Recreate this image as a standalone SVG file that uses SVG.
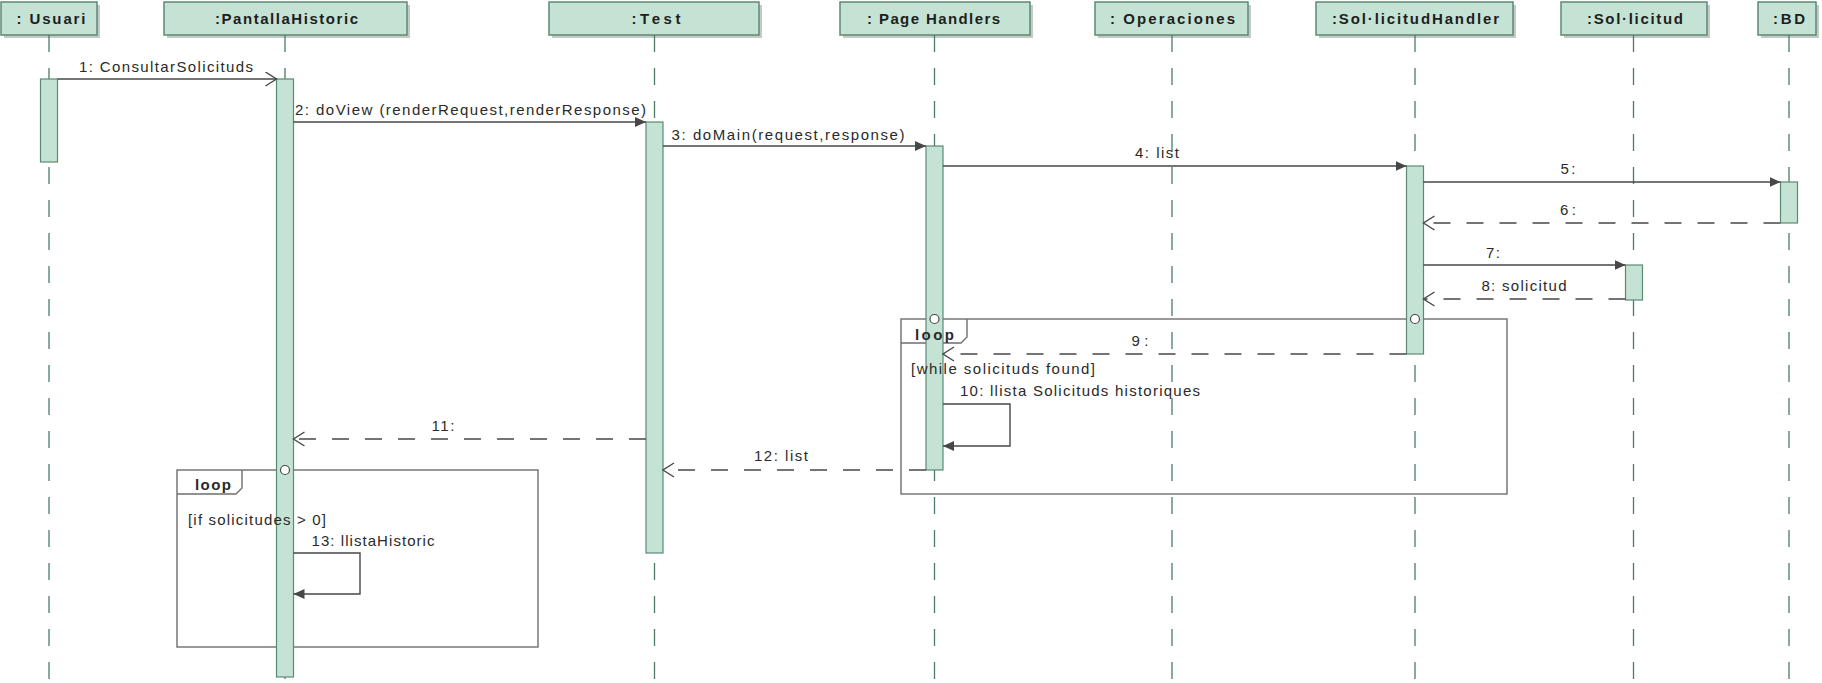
<svg xmlns="http://www.w3.org/2000/svg" width="1822" height="683" viewBox="0 0 1822 683">
<defs>
<style>
.hdr{fill:#c4e3d4;stroke:#5b8a73;stroke-width:1.5}
.shadow{fill:#9a9a9a;opacity:0.55}
.life{stroke:#4d7c64;stroke-width:1.3;stroke-dasharray:17 16;fill:none}
.act{fill:#c4e3d4;stroke:#5b8a73;stroke-width:1.2}
.msg{stroke:#474747;stroke-width:1.4;fill:none}
.ret{stroke:#474747;stroke-width:1.4;fill:none;stroke-dasharray:17 16}
.frame{stroke:#6e6e6e;stroke-width:1.4;fill:none}
.circ{fill:#ffffff;stroke:#474747;stroke-width:1.2}
.ht{font-family:"Liberation Sans",Arial,sans-serif;font-size:15px;font-weight:bold;fill:#1e1e1e;text-anchor:middle}
.lt{font-family:"Liberation Sans",Arial,sans-serif;font-size:15px;fill:#2a2a2a;text-anchor:middle}
.gt{font-family:"Liberation Sans",Arial,sans-serif;font-size:15px;fill:#2a2a2a}
.kw{font-family:"Liberation Sans",Arial,sans-serif;font-size:15px;font-weight:bold;fill:#2a2a2a}
</style>
<marker id="filled" markerUnits="userSpaceOnUse" markerWidth="12" markerHeight="10" refX="11" refY="5" orient="auto">
<path d="M0,0 L11,5 L0,10 z" fill="#474747"/>
</marker>
<marker id="open" markerUnits="userSpaceOnUse" markerWidth="14" markerHeight="16" refX="12" refY="7.5" orient="auto">
<path d="M1,0.5 L12,7.5 L1,14.5" fill="none" stroke="#474747" stroke-width="1.4"/>
</marker>
</defs>
<rect width="1822" height="683" fill="#ffffff"/>

<g id="frames">
<g id="loop1">
<rect class="frame" x="901" y="319" width="606" height="175"/>
<path class="frame" d="M901,343 H961 L967,337 V319"/>
</g>
<g id="loop2">
<rect class="frame" x="177" y="470" width="361" height="177"/>
<path class="frame" d="M177,494 H236 L242,488 V470"/>
</g>
</g>

<g id="usuari">
<rect class="shadow" x="4" y="5" width="96" height="33"/>
<rect class="hdr" x="1" y="2" width="96" height="33"/>
<text class="ht" x="51" y="24" textLength="69" lengthAdjust="spacing">: Usuari</text>
<line class="life" x1="49" y1="35" x2="49" y2="683"/>
<rect class="act" x="40.5" y="79" width="17" height="83"/>
</g>

<g id="pantallaHistoric">
<rect class="shadow" x="167" y="5" width="243" height="33"/>
<rect class="hdr" x="164" y="2" width="243" height="33"/>
<text class="ht" x="286.5" y="24" textLength="143" lengthAdjust="spacing">:PantallaHistoric</text>
<line class="life" x1="285" y1="35" x2="285" y2="683"/>
<rect class="act" x="276.5" y="79" width="17" height="598"/>
</g>

<g id="test">
<rect class="shadow" x="552" y="5" width="210" height="33"/>
<rect class="hdr" x="549" y="2" width="210" height="33"/>
<text class="ht" x="656" y="24" textLength="49" lengthAdjust="spacing">:Test</text>
<line class="life" x1="654.5" y1="35" x2="654.5" y2="683"/>
<rect class="act" x="646" y="122" width="17" height="431"/>
</g>

<g id="pageHandlers">
<rect class="shadow" x="843" y="5" width="190" height="33"/>
<rect class="hdr" x="840" y="2" width="190" height="33"/>
<text class="ht" x="933.5" y="24" textLength="133" lengthAdjust="spacing">: Page Handlers</text>
<line class="life" x1="934.5" y1="35" x2="934.5" y2="683"/>
<rect class="act" x="926" y="146" width="17" height="324"/>
</g>

<g id="operaciones">
<rect class="shadow" x="1098" y="5" width="153" height="33"/>
<rect class="hdr" x="1095" y="2" width="153" height="33"/>
<text class="ht" x="1172.5" y="24" textLength="125" lengthAdjust="spacing">: Operaciones</text>
<line class="life" x1="1172" y1="35" x2="1172" y2="683"/>
</g>

<g id="sollicitudHandler">
<rect class="shadow" x="1319" y="5" width="197" height="33"/>
<rect class="hdr" x="1316" y="2" width="197" height="33"/>
<text class="ht" x="1415.5" y="24" textLength="167" lengthAdjust="spacing">:Sol·licitudHandler</text>
<line class="life" x1="1415" y1="35" x2="1415" y2="683"/>
<rect class="act" x="1406.5" y="166" width="17" height="188"/>
</g>

<g id="sollicitud">
<rect class="shadow" x="1564" y="5" width="146" height="33"/>
<rect class="hdr" x="1561" y="2" width="146" height="33"/>
<text class="ht" x="1635" y="24" textLength="96" lengthAdjust="spacing">:Sol·licitud</text>
<line class="life" x1="1633.5" y1="35" x2="1633.5" y2="683"/>
<rect class="act" x="1625.5" y="265" width="17" height="35"/>
</g>

<g id="bd">
<rect class="shadow" x="1761" y="5" width="58" height="33"/>
<rect class="hdr" x="1758" y="2" width="58" height="33"/>
<text class="ht" x="1789" y="24" textLength="32" lengthAdjust="spacing">:BD</text>
<line class="life" x1="1789" y1="35" x2="1789" y2="683"/>
<rect class="act" x="1780.5" y="182" width="17" height="41"/>
</g>

<g id="connectors">
<line class="msg" x1="57.5" y1="79" x2="276.5" y2="79" marker-end="url(#open)"/>
<line class="msg" x1="293.5" y1="122" x2="646" y2="122" marker-end="url(#filled)"/>
<line class="msg" x1="663" y1="146" x2="926" y2="146" marker-end="url(#filled)"/>
<line class="msg" x1="943" y1="166" x2="1406.5" y2="166" marker-end="url(#filled)"/>
<line class="msg" x1="1423.5" y1="182" x2="1780.5" y2="182" marker-end="url(#filled)"/>
<line class="ret" x1="1780.5" y1="223" x2="1423.5" y2="223" marker-end="url(#open)"/>
<line class="msg" x1="1423.5" y1="265" x2="1625.5" y2="265" marker-end="url(#filled)"/>
<line class="ret" x1="1625.5" y1="299" x2="1423.5" y2="299" marker-end="url(#open)"/>
<line class="ret" x1="1406.5" y1="354" x2="943" y2="354" marker-end="url(#open)"/>
<polyline class="msg" points="943,404 1010,404 1010,446 943,446" marker-end="url(#filled)"/>
<line class="ret" x1="646" y1="439" x2="293.5" y2="439" marker-end="url(#open)"/>
<line class="ret" x1="926" y1="470" x2="663" y2="470" marker-end="url(#open)"/>
<polyline class="msg" points="293.5,553 360,553 360,594 293.5,594" marker-end="url(#filled)"/>
<circle class="circ" cx="934.5" cy="319" r="4.5"/>
<circle class="circ" cx="1415" cy="319" r="4.5"/>
<circle class="circ" cx="285" cy="470" r="4.5"/>
<text class="lt" x="166" y="72" textLength="174" lengthAdjust="spacing">1: ConsultarSolicituds</text>
<text class="lt" x="470.5" y="115" textLength="351" lengthAdjust="spacing">2: doView (renderRequest,renderResponse)</text>
<text class="lt" x="788" y="140" textLength="233" lengthAdjust="spacing">3: doMain(request,response)</text>
<text class="lt" x="1157" y="158" textLength="44" lengthAdjust="spacing">4: list</text>
<text class="lt" x="1568" y="174" textLength="15" lengthAdjust="spacing">5:</text>
<text class="lt" x="1568" y="215" textLength="16" lengthAdjust="spacing">6:</text>
<text class="lt" x="1493" y="258" textLength="14" lengthAdjust="spacing">7:</text>
<text class="lt" x="1524" y="291" textLength="85" lengthAdjust="spacing">8: solicitud</text>
<text class="lt" x="1140" y="346" textLength="17" lengthAdjust="spacing">9:</text>
<text class="lt" x="1080" y="396" textLength="240" lengthAdjust="spacing">10: llista Solicituds historiques</text>
<text class="lt" x="443" y="431" textLength="23" lengthAdjust="spacing">11:</text>
<text class="lt" x="781" y="461" textLength="54" lengthAdjust="spacing">12: list</text>
<text class="lt" x="373" y="546" textLength="123" lengthAdjust="spacing">13: llistaHistoric</text>
</g>

<g id="frame-labels">
<text class="kw" x="915" y="340" textLength="39" lengthAdjust="spacing">loop</text>
<text class="gt" x="911" y="374" textLength="184" lengthAdjust="spacing">[while solicituds found]</text>
<text class="kw" x="195" y="490" textLength="36" lengthAdjust="spacing">loop</text>
<text class="gt" x="188" y="525" textLength="138" lengthAdjust="spacing">[if solicitudes &gt; 0]</text>
</g>
</svg>
